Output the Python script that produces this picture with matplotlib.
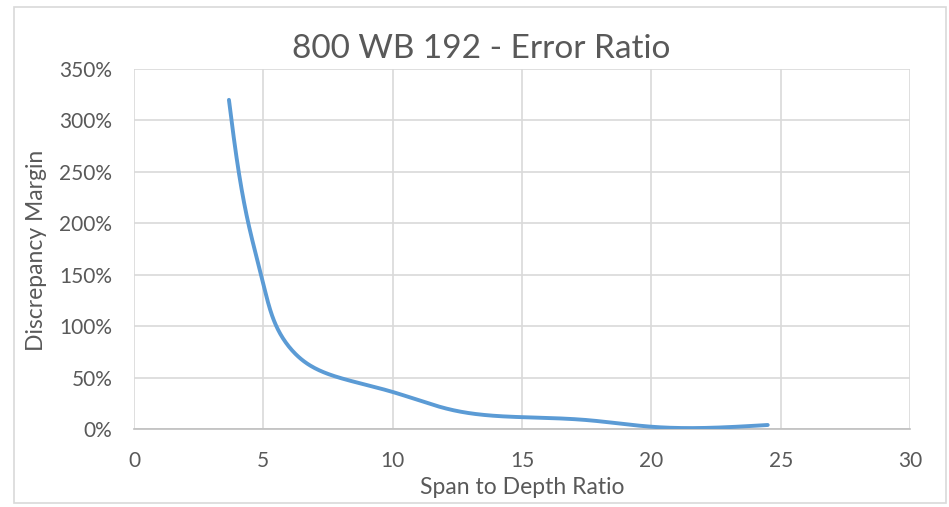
import matplotlib
matplotlib.use('Agg')
import matplotlib.pyplot as plt
import numpy as np
from matplotlib.ticker import PercentFormatter, MultipleLocator
from matplotlib.patches import Rectangle

plt.rcParams['font.family'] = ['Lato', 'DejaVu Sans']

# span to depth ratio vs discrepancy margin (fraction)
span_depth = [3.67, 4.42, 5.0, 5.58, 6.67, 8.2, 10.0, 12.3, 15.0, 17.5, 20.0, 24.5]
discrepancy = [3.20, 2.00, 1.41, 0.96, 0.64, 0.48, 0.36, 0.185, 0.115, 0.087, 0.022, 0.039]

title = '800 WB 192 - Error Ratio'
xlabel = 'Span to Depth Ratio'
ylabel = 'Discrepancy Margin'


def natural_spline(t, v, tt):
    n = len(t)
    h = np.diff(t)
    A = np.zeros((n, n))
    b = np.zeros(n)
    A[0, 0] = A[-1, -1] = 1
    for i in range(1, n - 1):
        A[i, i - 1] = h[i - 1]
        A[i, i] = 2 * (h[i - 1] + h[i])
        A[i, i + 1] = h[i]
        b[i] = 6 * ((v[i + 1] - v[i]) / h[i] - (v[i] - v[i - 1]) / h[i - 1])
    M = np.linalg.solve(A, b)
    i = np.clip(np.searchsorted(t, tt) - 1, 0, n - 2)
    a = t[i + 1] - tt
    c = tt - t[i]
    return (M[i] * a ** 3 + M[i + 1] * c ** 3) / (6 * h[i]) \
        + (v[i] / h[i] - M[i] * h[i] / 6) * a + (v[i + 1] / h[i] - M[i + 1] * h[i] / 6) * c


def smooth_line(xs, ys, sx=25.9, sy=102.9, n=600):
    # parametric spline over chord length (in screen-ish units) for a smoothed line
    xs = np.asarray(xs, float)
    ys = np.asarray(ys, float)
    t = np.concatenate([[0], np.cumsum(np.hypot(np.diff(xs) * sx, np.diff(ys) * sy))])
    tt = np.linspace(0, t[-1], n)
    return natural_spline(t, xs, tt), natural_spline(t, ys, tt)


fig = plt.figure(figsize=(9.49, 5.07), dpi=100)
ax = fig.add_axes([134 / 949, 1 - 429 / 507, 776 / 949, 360 / 507])

lx, ly = smooth_line(span_depth, discrepancy)
ax.plot(lx, ly, color='#5b9bd5', lw=2.8, solid_capstyle='round', zorder=3)

ax.set_xlim(0, 30)
ax.set_ylim(0, 3.5)
ax.xaxis.set_major_locator(MultipleLocator(5))
ax.yaxis.set_major_locator(MultipleLocator(0.5))
ax.yaxis.set_major_formatter(PercentFormatter(1.0, decimals=0))
ax.grid(True, color='#d9d9d9', lw=1.2)
ax.set_axisbelow(True)
for s in ['top', 'right', 'left']:
    ax.spines[s].set_visible(False)
ax.spines['bottom'].set_color('#bfbfbf')
ax.spines['bottom'].set_linewidth(1.2)
ax.tick_params(length=0, labelsize=15, colors='#595959')
ax.tick_params(axis='x', pad=16)
ax.tick_params(axis='y', pad=15.5)

fig.text(522 / 949, 1 - 487 / 507, xlabel, ha='center', va='center', fontsize=16.5, color='#595959')
fig.text(37 / 949, 1 - 250 / 507, ylabel, ha='center', va='center', rotation=90,
         fontsize=16.5, color='#595959')

fig.text(481 / 949, 1 - 49 / 507, title, ha='center', va='center', fontsize=24, color='#595959')

# chart area border
fig.patches.append(Rectangle((14 / 949, 4 / 507), 932 / 949, 496 / 507, transform=fig.transFigure,
                             fill=False, edgecolor='#d9d9d9', lw=1.2))

fig.savefig('out.png', dpi=100)
